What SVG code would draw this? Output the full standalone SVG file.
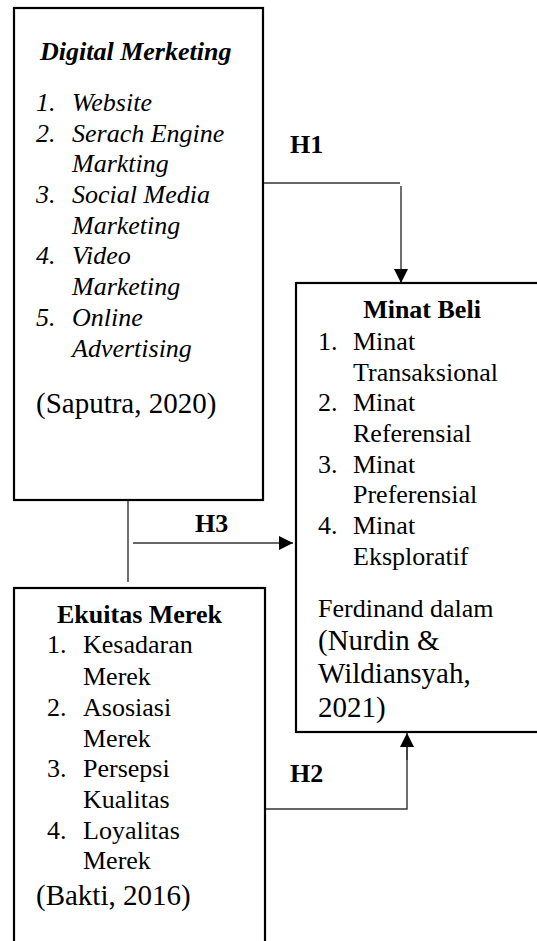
<svg xmlns="http://www.w3.org/2000/svg" width="537" height="941" viewBox="0 0 537 941">
<style>
.box{fill:#fff;stroke:#000;stroke-width:2.2}
.t{font-family:"Liberation Serif","Times New Roman",serif;font-size:26px;fill:#000}
.c{font-size:29px}
.b{font-weight:bold}
.i{font-style:italic}
.ln{stroke:#333;stroke-width:1.4;fill:none}
</style>
<defs>
<marker id="ah" viewBox="0 0 14 14" refX="14" refY="7" markerWidth="14" markerHeight="14" markerUnits="userSpaceOnUse" orient="auto">
<path d="M0,0 L14,7 L0,14 Z" fill="#000"/>
</marker>
</defs>
<rect width="537" height="941" fill="#fff"/>
<g id="connectors">
<polyline class="ln" points="263,183 400,183"/>
<line class="ln" x1="401" y1="186" x2="401" y2="283" marker-end="url(#ah)"/>
<line class="ln" x1="128" y1="500" x2="128" y2="582"/>
<line class="ln" x1="133" y1="543" x2="293" y2="543" marker-end="url(#ah)"/>
<polyline class="ln" points="265,809 407,809 407,746"/>
<line class="ln" x1="407" y1="760" x2="407" y2="733" marker-end="url(#ah)"/>
<text class="t b" x="290" y="153" font-size="27">H1</text>
<text class="t b" x="195" y="532" font-size="27">H3</text>
<text class="t b" x="290" y="782" font-size="27">H2</text>
</g>
<g id="digital-marketing">
<rect class="box" x="14" y="8" width="249" height="492"/>
<text class="t b i" x="40" y="60" font-size="27">Digital Merketing</text>
<g class="t i">
<text x="36" y="111">1.</text><text x="72" y="111">Website</text>
<text x="36" y="142">2.</text><text x="72" y="142">Serach Engine</text>
<text x="72" y="172">Markting</text>
<text x="36" y="203">3.</text><text x="72" y="203">Social Media</text>
<text x="72" y="234">Marketing</text>
<text x="36" y="264">4.</text><text x="72" y="264">Video</text>
<text x="72" y="295">Marketing</text>
<text x="36" y="326">5.</text><text x="72" y="326">Online</text>
<text x="72" y="357">Advertising</text>
</g>
<text class="t c" x="36" y="413">(Saputra, 2020)</text>
</g>
<g id="ekuitas-merek">
<rect class="box" x="14" y="588" width="251" height="380"/>
<text class="t b" x="139.5" y="623" text-anchor="middle">Ekuitas Merek</text>
<g class="t">
<text x="47" y="653">1.</text><text x="83" y="653">Kesadaran</text>
<text x="83" y="685">Merek</text>
<text x="47" y="716">2.</text><text x="83" y="716">Asosiasi</text>
<text x="83" y="747">Merek</text>
<text x="47" y="777">3.</text><text x="83" y="777">Persepsi</text>
<text x="83" y="808">Kualitas</text>
<text x="47" y="839">4.</text><text x="83" y="839">Loyalitas</text>
<text x="83" y="869">Merek</text>
</g>
<text class="t c" x="36" y="905">(Bakti, 2016)</text>
</g>
<g id="minat-beli">
<rect class="box" x="296" y="283" width="270" height="449"/>
<text class="t b" x="422" y="318" text-anchor="middle">Minat Beli</text>
<g class="t">
<text x="318" y="350">1.</text><text x="353" y="350">Minat</text>
<text x="353" y="381">Transaksional</text>
<text x="318" y="411">2.</text><text x="353" y="411">Minat</text>
<text x="353" y="442">Referensial</text>
<text x="318" y="473">3.</text><text x="353" y="473">Minat</text>
<text x="353" y="503">Preferensial</text>
<text x="318" y="534">4.</text><text x="353" y="534">Minat</text>
<text x="353" y="565">Eksploratif</text>
<text x="318" y="617">Ferdinand dalam</text>
</g>
<g class="t c">
<text x="318" y="650">(Nurdin &amp;</text>
<text x="318" y="683">Wildiansyah,</text>
<text x="318" y="717">2021)</text>
</g>
</g>
</svg>
